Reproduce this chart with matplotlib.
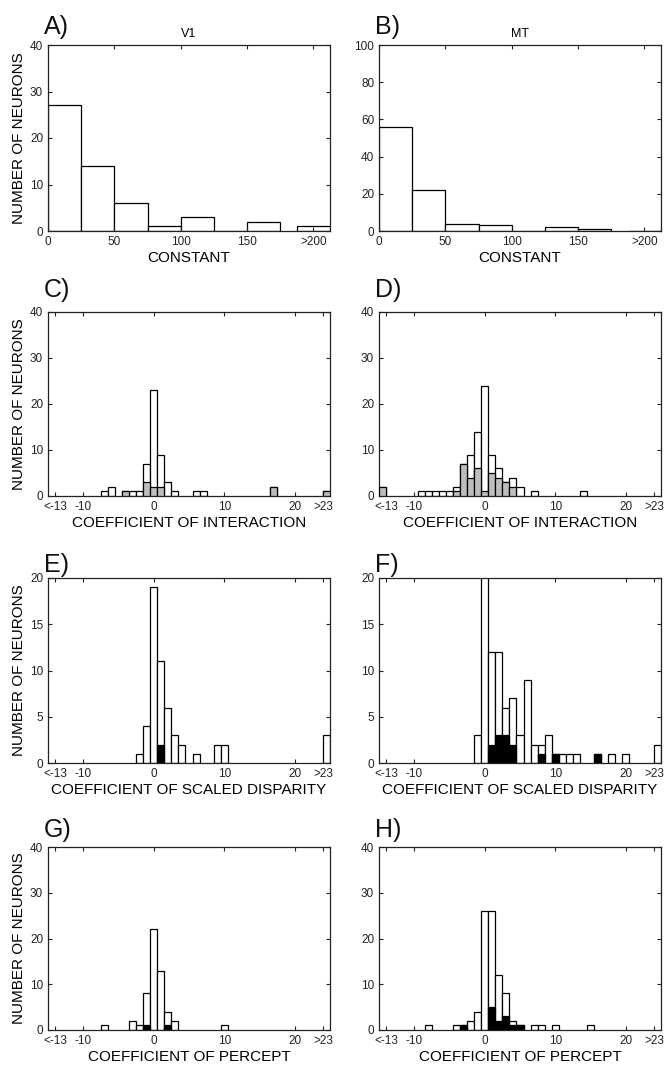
import numpy as np
import matplotlib
matplotlib.use("Agg")
import matplotlib.pyplot as plt

plt.rcParams['font.family'] = ['Liberation Sans', 'DejaVu Sans']

# ---------------------------
# data
# ---------------------------
# A/B: constant term, 25-wide bins, last bin is ">200"
const_bins = ["0-25", "25-50", "50-75", "75-100", "100-125", "125-150", "150-175", ">200"]
v1_constant = [27, 14, 6, 1, 3, 0, 2, 1]
mt_constant = [56, 22, 4, 3, 0, 2, 1, 0]

# C/D: coefficient of interaction (grey = subset)
v1_inter_bins = [-7, -6, -4, -3, -2, -1, 0, 1, 2, 3, 6, 7, 17, ">23"]
v1_inter_total = [1, 2, 1, 1, 1, 7, 23, 9, 3, 1, 1, 1, 2, 1]
v1_inter_grey = [0, 0, 1, 0, 0, 3, 2, 2, 0, 0, 0, 0, 2, 1]

mt_inter_bins = ["<-13", -9, -8, -7, -6, -5, -4, -3, -2, -1, 0, 1, 2, 3, 4, 5, 7, 14]
mt_inter_total = [2, 1, 1, 1, 1, 1, 2, 7, 9, 14, 24, 9, 6, 3, 4, 2, 1, 1]
mt_inter_grey = [2, 0, 0, 0, 0, 0, 1, 7, 4, 6, 1, 5, 4, 3, 2, 0, 0, 0]

# E/F: coefficient of scaled disparity (black = subset)
v1_scaled_bins = [-2, -1, 0, 1, 2, 3, 4, 6, 9, 10, ">23"]
v1_scaled_total = [1, 4, 19, 11, 6, 3, 2, 1, 2, 2, 3]
v1_scaled_black = [0, 0, 0, 2, 0, 0, 0, 0, 0, 0, 0]

mt_scaled_bins = [-1, 0, 1, 2, 3, 4, 5, 6, 7, 8, 9, 10, 11, 12, 13, 16, 18, 20, ">23"]
mt_scaled_total = [3, 26, 12, 12, 6, 7, 3, 9, 2, 2, 3, 1, 1, 1, 1, 1, 1, 1, 2]
mt_scaled_black = [0, 0, 2, 3, 3, 2, 0, 0, 0, 1, 0, 1, 0, 0, 0, 1, 0, 0, 0]

# G/H: coefficient of percept (black = subset)
v1_percept_bins = [-7, -3, -2, -1, 0, 1, 2, 3, 10]
v1_percept_total = [1, 2, 1, 8, 22, 13, 4, 2, 1]
v1_percept_black = [0, 0, 0, 1, 0, 0, 1, 0, 0]

mt_percept_bins = [-8, -4, -3, -2, -1, 0, 1, 2, 3, 4, 5, 7, 8, 10, 15]
mt_percept_total = [1, 1, 1, 2, 4, 26, 26, 12, 8, 2, 1, 1, 1, 1, 1]
mt_percept_black = [0, 0, 1, 0, 0, 0, 5, 2, 3, 1, 1, 0, 0, 0, 0]

coef_ticks = ["<-13", -10, 0, 10, 20, ">23"]
const_ticks = [0, 50, 100, 150, ">200"]

GREY = "#bdbdbd"


def coef_x(b):
    # outlier bins sit half a bin outside the regular range
    if b == "<-13":
        return -14.5
    if b == ">23":
        return 24.5
    return float(b)


def const_x(b):
    if b == ">200":
        return 200.0
    lo, hi = b.split("-")
    return (float(lo) + float(hi)) / 2


def style_axes(ax):
    for s in ax.spines.values():
        s.set_linewidth(0.9)
        s.set_color("#222222")
    ax.tick_params(direction="in", top=True, right=True, length=3, width=0.8,
                   labelsize=8.5, pad=3.5, colors="#222222")


def coef_panel(ax, bins, total, sub, sub_color, ylim, yticks, xlabel):
    xs = [coef_x(b) for b in bins]
    ax.bar(xs, total, width=1, color="white", edgecolor="black", linewidth=0.9, zorder=2)
    xs_s = [x for x, v in zip(xs, sub) if v > 0]
    vs_s = [v for v in sub if v > 0]
    ax.bar(xs_s, vs_s, width=1, color=sub_color, edgecolor="black", linewidth=0.9, zorder=3)
    ax.set_xlim(-15, 25)
    ax.set_ylim(0, ylim)
    ax.set_yticks(yticks)
    ax.set_xticks([-14, -10, 0, 10, 20, 24])
    ax.set_xticklabels([str(t) for t in coef_ticks])
    ax.set_xlabel(xlabel, fontsize=11, labelpad=2.5)
    style_axes(ax)


fig = plt.figure(figsize=(6.72, 10.68), dpi=100)
W, H = 672, 1068


def add_axes(left_px, top_px, bottom_px):
    return fig.add_axes([left_px / W, 1 - bottom_px / H, 282 / W, (bottom_px - top_px) / H])


rows = [(45, 231), (312, 496), (578, 763), (847, 1030)]
lefts = [48, 379]
axs = [[add_axes(l, t, b) for l in lefts] for (t, b) in rows]

# A / B
for ax, vals, ymax, yt, ttl in [(axs[0][0], v1_constant, 40, [0, 10, 20, 30, 40], "V1"),
                                (axs[0][1], mt_constant, 100, [0, 20, 40, 60, 80, 100], "MT")]:
    xs = [const_x(b) for b in const_bins]
    ax.bar(xs, vals, width=25, color="white", edgecolor="black", linewidth=0.9)
    ax.set_xlim(0, 212.5)
    ax.set_ylim(0, ymax)
    ax.set_yticks(yt)
    ax.set_xticks([0, 50, 100, 150, 200])
    ax.set_xticklabels([str(t) for t in const_ticks])
    ax.set_xlabel("CONSTANT", fontsize=11, labelpad=2.5)
    ax.set_title(ttl, fontsize=9, pad=6)
    style_axes(ax)

coef_panel(axs[1][0], v1_inter_bins, v1_inter_total, v1_inter_grey, GREY, 40,
           [0, 10, 20, 30, 40], "COEFFICIENT OF INTERACTION")
coef_panel(axs[1][1], mt_inter_bins, mt_inter_total, mt_inter_grey, GREY, 40,
           [0, 10, 20, 30, 40], "COEFFICIENT OF INTERACTION")
coef_panel(axs[2][0], v1_scaled_bins, v1_scaled_total, v1_scaled_black, "black", 20,
           [0, 5, 10, 15, 20], "COEFFICIENT OF SCALED DISPARITY")
coef_panel(axs[2][1], mt_scaled_bins, mt_scaled_total, mt_scaled_black, "black", 20,
           [0, 5, 10, 15, 20], "COEFFICIENT OF SCALED DISPARITY")
coef_panel(axs[3][0], v1_percept_bins, v1_percept_total, v1_percept_black, "black", 40,
           [0, 10, 20, 30, 40], "COEFFICIENT OF PERCEPT")
coef_panel(axs[3][1], mt_percept_bins, mt_percept_total, mt_percept_black, "black", 40,
           [0, 10, 20, 30, 40], "COEFFICIENT OF PERCEPT")

for r in range(4):
    axs[r][0].set_ylabel("NUMBER OF NEURONS", fontsize=11, labelpad=3)

# panel letters
letters = ["A)", "B)", "C)", "D)", "E)", "F)", "G)", "H)"]
letter_y = [27, 290, 565, 830]
for i, lab in enumerate(letters):
    r, c = divmod(i, 2)
    fig.text((lefts[c] - 4) / W, 1 - letter_y[r] / H, lab, fontsize=18,
             va="center", ha="left", color="#111111")

fig.savefig("out.png", dpi=100)
